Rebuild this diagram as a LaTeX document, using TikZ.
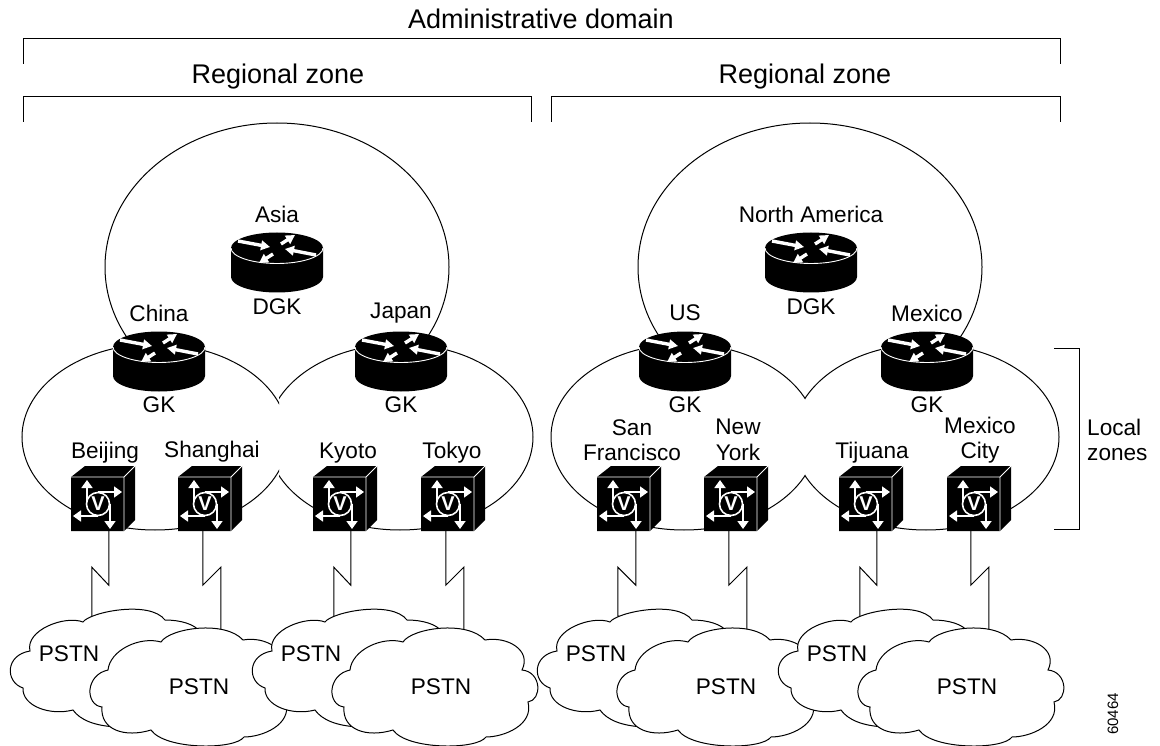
\documentclass[tikz,border=0pt]{standalone}
\usepackage{fontspec}
\setmainfont{Liberation Sans}
\usetikzlibrary{arrows.meta,calc}
\tikzset{
  x=1pt,y=-1pt,
  wire/.style={black,line width=1pt},
  lbl/.style={inner sep=0pt,align=center,font=\fontsize{22.6}{25.5}\selectfont},
  toplbl/.style={inner sep=0pt,font=\fontsize{27}{30}\selectfont},
  cloudshape/.style={draw=black,fill=white,line width=1pt},
  rarrow/.style={white,line width=3.4pt,-{Triangle[length=9pt,width=9.5pt]}},
  varrow/.style={white,line width=1.8pt,-{Triangle[length=8pt,width=11pt]}},
}
\newcommand{\routerico}[3]{% name, cx, cy (centre of top face)
  \begin{scope}[shift={(#2,#3)}]
    \fill[black] (-46,0) -- (-46,29) arc[start angle=180,end angle=360,x radius=46pt,y radius=15.5pt] -- (46,0) -- cycle;
    \fill[black] (0,0) ellipse[x radius=46pt,y radius=15.5pt];
    \draw[white,line width=0.9pt] (-46,0) arc[start angle=180,end angle=360,x radius=46pt,y radius=15.5pt];
    \draw[rarrow] (-39,-7) -- (-7,-1);
    \draw[rarrow] (4,-4) -- (18,-13);
    \draw[rarrow] (39,7) -- (8,1);
    \draw[rarrow] (-4,6) -- (-18,15);
    \node[inner sep=0pt,minimum width=92pt,minimum height=60pt] (#1) at (0,14) {};
  \end{scope}}
\newcommand{\deviceico}[2]{% name, left x of front face
  \begin{scope}[shift={(#2,477)}]
    \fill[black] (0,0) -- (14,-11) -- (64,-11) -- (64,43) -- (53,54) -- (0,54) -- cycle;
    \draw[white,line width=0.8pt] (0,0) -- (53,0) -- (53,54) (53,0) -- (64,-11);
    \draw[varrow] (16,27) -- (16,3);
    \draw[varrow] (27,15) -- (51,15);
    \draw[varrow] (27,39) -- (2,39);
    \draw[varrow] (39,27) -- (39,52);
    \draw[white,line width=1.6pt,fill=black] (27,27) circle[radius=11.5pt];
    \node[inner sep=0pt,white,font=\fontsize{20}{20}\selectfont\bfseries] at (27,27) {V};
    \node[inner sep=0pt,minimum width=53pt,minimum height=54pt] (#1) at (26.5,27) {};
  \end{scope}}
\newcommand{\cloudpair}[2]{% prefix, x offset
  \begin{scope}[shift={(#2,0)}]
    \path[cloudshape] (83,622) .. controls (90,612) and (150,600) .. (165,620)
      .. controls (180,620) and (195,624) .. (200,632) -- (210,700)
      -- (117,727) .. controls (95,726) and (80,720) .. (73,710)
      .. controls (50,716) and (22,706) .. (23,688)
      .. controls (5,682) and (5,655) .. (30,651)
      .. controls (25,630) and (65,615) .. (83,622) -- cycle;
    \node[lbl] (#1b) at (69,654) {PSTN};
    \path[cloudshape] (161,642) .. controls (170,628) and (225,620) .. (243,640)
      .. controls (265,636) and (290,650) .. (280,670)
      .. controls (300,672) and (300,700) .. (286,702)
      .. controls (292,725) and (262,737) .. (244,737)
      .. controls (235,750) and (165,750) .. (151,730)
      .. controls (125,738) and (100,730) .. (102,707)
      .. controls (85,705) and (85,675) .. (108,670)
      .. controls (110,650) and (140,636) .. (161,642) -- cycle;
    \node[lbl] (#1f) at (199,687) {PSTN};
  \end{scope}}
\newcommand{\zig}[4]{% device, port offset from left, zig dx, target
  \draw[wire] ($(#1.south west)+(#2,0)$) -- ++(0,54) -- ++(#3,-18) |- (#4);}
\begin{document}
\begin{tikzpicture}
\useasboundingbox (0,0) rectangle (1160,746);
% brackets
\coordinate (adA) at (23,64); \coordinate (adB) at (1060,64);
\draw[wire] (adA) |- (1060,39) -- (adB);
\coordinate (raA) at (23,122); \coordinate (raB) at (531,122);
\draw[wire] (raA) |- (531,97) -- (raB);
\coordinate (rbA) at (551,122); \coordinate (rbB) at (1060,122);
\draw[wire] (rbA) |- (1060,97) -- (rbB);
\coordinate (lzA) at (1054,348); \coordinate (lzB) at (1054,529);
\draw[wire] (lzA) -| (1079,529) -- (lzB);
\node[toplbl] (admin) at (541,19) {Administrative domain};
\node[toplbl] (rega) at (278,77) {Regional zone};
\node[toplbl] (regb) at (805,77) {Regional zone};
\node[lbl,align=left,anchor=west] (local) at (1087,440) {Local\\zones};
\node[rotate=90,inner sep=0pt,font=\fontsize{15}{15}\selectfont] (num) at (1113,714) {60464};
% big ellipses
\begin{scope}
  \clip (0,0) rectangle (1160,345);
  \draw[wire] (277,267) ellipse[x radius=172pt,y radius=144pt];
  \draw[wire] (810,267) ellipse[x radius=172pt,y radius=144pt];
\end{scope}
% local ellipses
\begin{scope}
  \clip (0,300) rectangle (279,560);
  \draw[wire] (155,437) ellipse[x radius=133pt,y radius=93pt];
\end{scope}
\begin{scope}
  \clip (279,300) rectangle (542,560);
  \draw[wire] (400,437) ellipse[x radius=133pt,y radius=93pt];
\end{scope}
\begin{scope}
  \clip (542,300) rectangle (805,560);
  \draw[wire] (684,437) ellipse[x radius=133pt,y radius=93pt];
\end{scope}
\begin{scope}
  \clip (805,300) rectangle (1160,560);
  \draw[wire] (926,437) ellipse[x radius=133pt,y radius=93pt];
\end{scope}
% routers
\routerico{asia}{277}{248}
\routerico{namerica}{811}{248}
\routerico{china}{159}{347}
\routerico{japan}{401}{347}
\routerico{us}{685}{347}
\routerico{mexico}{927}{347}
\node[lbl] at (277,214) {Asia};
\node[lbl] at (277,307) {DGK};
\node[lbl] at (811,214) {North America};
\node[lbl] at (811,307) {DGK};
\node[lbl] at (159,313) {China};
\node[lbl] at (159,405) {GK};
\node[lbl] at (401,313) {Japan};
\node[lbl] at (401,405) {GK};
\node[lbl] at (685,313) {US};
\node[lbl] at (685,405) {GK};
\node[lbl] at (927,313) {Mexico};
\node[lbl] at (927,405) {GK};
% devices
\deviceico{beijing}{71}
\deviceico{shanghai}{178}
\deviceico{kyoto}{313}
\deviceico{tokyo}{421}
\deviceico{sf}{597}
\deviceico{ny}{704}
\deviceico{tijuana}{839}
\deviceico{mexcity}{947}
\node[lbl] at (105,453) {Beijing};
\node[lbl] at (212,452) {Shanghai};
\node[lbl] at (348,453) {Kyoto};
\node[lbl] at (452,453) {Tokyo};
\node[lbl] at (632,440) {San\\Francisco};
\node[lbl] at (738,440) {New\\York};
\node[lbl] at (872,453) {Tijuana};
\node[lbl] at (980,440) {Mexico\\City};
% zigzag connector ends, hidden by the clouds
\coordinate (c1bt) at (92,616);  \coordinate (c1ft) at (220,630);
\coordinate (c2bt) at (334,616); \coordinate (c2ft) at (462,630);
\coordinate (c3bt) at (619,616); \coordinate (c3ft) at (747,630);
\coordinate (c4bt) at (860,616); \coordinate (c4ft) at (988,630);
\zig{beijing}{38}{-17}{c1bt}
\zig{shanghai}{25}{18}{c1ft}
\zig{kyoto}{38}{-17}{c2bt}
\zig{tokyo}{25}{18}{c2ft}
\zig{sf}{39}{-18}{c3bt}
\zig{ny}{25}{18}{c3ft}
\zig{tijuana}{38}{-17}{c4bt}
\zig{mexcity}{24}{18}{c4ft}
% clouds
\cloudpair{c1}{0}
\cloudpair{c2}{242}
\cloudpair{c3}{527}
\cloudpair{c4}{768}
\end{tikzpicture}
\end{document}
